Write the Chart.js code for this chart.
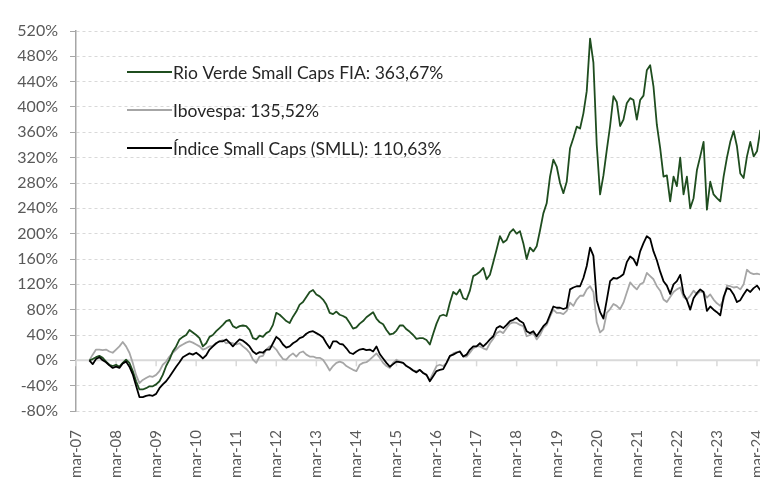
<!DOCTYPE html>
<html lang="pt-BR">
<head>
<meta charset="utf-8">
<title>Rio Verde Small Caps FIA x Ibovespa x SMLL</title>
<script src="https://cdn.jsdelivr.net/npm/chart.js@4.4.1/dist/chart.umd.min.js"></script>
<style>
  html, body { margin: 0; padding: 0; background: #fff; overflow: hidden; }
  #wrap { width: 767px; height: 480px; }
</style>
</head>
<body>
<div id="wrap"><canvas id="chart" width="767" height="480"></canvas></div>
<script>
// Cumulative return (%) at each month end, first point is jul-07
const firstMonth = 4; // months after mar-07

const tickLabels = [
  "mar-07", "mar-08", "mar-09", "mar-10", "mar-11", "mar-12",
  "mar-13", "mar-14", "mar-15", "mar-16", "mar-17", "mar-18",
  "mar-19", "mar-20", "mar-21", "mar-22", "mar-23", "mar-24",
];

const seriesNames = [
  "Rio Verde Small Caps FIA: 363,67%",
  "Ibovespa: 135,52%",
  "Índice Small Caps (SMLL): 110,63%",
];

const rioVerde = [
  0, 2, 5, 7, 4, -2, -7, -9, -7, -10,
  -4, 1, -4, -17, -33, -46, -46, -44, -41, -41,
  -38, -33, -23, -9, 1, 14, 22, 33, 37, 40,
  48, 44, 40, 35, 22, 27, 37, 40, 46, 51,
  56, 62, 64, 54, 51, 54, 55, 54, 48, 35,
  33, 39, 37, 43, 46, 56, 75, 72, 67, 62,
  59, 69, 77, 88, 92, 100, 108, 111, 104, 101,
  96, 88, 75, 73, 77, 72, 70, 67, 59, 50,
  52, 58, 62, 68, 72, 76, 66, 60, 57, 48,
  41, 42, 47, 55, 55, 49, 45, 40, 34, 35,
  35, 32, 25, 42, 58, 70, 72, 70, 91, 108,
  104, 112, 98, 96, 110, 133, 136, 140, 146, 128,
  135, 155, 175, 196, 186, 190, 202, 207, 200, 204,
  185, 160, 178, 172, 180, 205, 232, 248, 290, 317,
  306, 280, 264, 282, 335, 351, 369, 366, 390, 425,
  508, 470, 340, 262, 292, 332, 370, 417, 408, 370,
  380, 406, 414, 411, 380, 411, 418, 458, 466, 432,
  372, 335, 290, 292, 251, 290, 275, 320, 262, 290,
  240, 256, 300, 322, 345, 238, 282, 262, 256, 251,
  290, 320, 345, 362, 338, 295, 288, 322, 345, 322,
  330, 363.67,
];

const ibovespa = [
  0, 9, 17, 17, 16, 17, 14, 12, 17, 22,
  29, 22, 12, -4, -23, -36, -31, -28, -25, -26,
  -23, -17, -7, -2, 6, 12, 17, 22, 25, 28,
  30, 28, 25, 22, 17, 19, 22, 23, 27, 30,
  32, 27, 28, 27, 25, 27, 22, 18, 12, 1,
  -4, 6, 7, 17, 22, 22, 17, 9, 2, 1,
  7, 11, 6, 12, 14, 9, 6, 6, 4, 4,
  1, -7, -16, -9, -4, -2, -4, -9, -12, -15,
  -17, -7, -4, -3, 1, 6, 11, 4, -4, -9,
  -12, -4, 1, -2, -4, -9, -12, -16, -17, -15,
  -20, -23, -31, -20, -9, -7, -9, -4, 6, 11,
  13, 14, 6, 6, 12, 19, 22, 22, 19, 17,
  27, 34, 43, 46, 43, 51, 58, 60, 59, 56,
  54, 38, 40, 43, 33, 40, 51, 56, 69, 80,
  75, 75, 73, 78, 91, 86, 96, 102, 102, 112,
  117, 108, 60, 44, 49, 75, 81, 89, 86, 81,
  91, 107, 123, 117, 112, 120, 123, 138, 133, 128,
  117, 110, 96, 92, 100, 108, 112, 115, 100, 96,
  102, 110, 104, 109, 107, 99, 104, 96, 90, 86,
  96, 118, 117, 115, 116, 112, 120, 143, 138, 136,
  137, 135.52,
];

const smll = [
  0, -6, 2, 5, 0, -3, -8, -12, -10, -12,
  -5, -2, -10, -22, -40, -58, -58, -56, -55, -56,
  -53, -44, -38, -33, -26, -18, -10, -3, 5, 8,
  11, 9, 12, 8, 3, 8, 17, 22, 27, 30,
  30, 33, 28, 22, 28, 33, 31, 27, 22, 14,
  10, 13, 12, 17, 17, 27, 37, 33, 25, 20,
  22, 27, 30, 35, 37, 42, 45, 46, 43, 40,
  36, 27, 19, 30, 30, 26, 25, 19, 12, 10,
  14, 17, 18, 16, 17, 14, 22, 10, 3, -4,
  -10, -6, -2, -3, -4, -9, -12, -16, -19, -15,
  -20, -23, -33, -25, -17, -15, -14, -4, 7, 9,
  12, 14, 6, 9, 17, 22, 22, 27, 22, 27,
  33, 38, 51, 54, 51, 56, 62, 64, 67, 62,
  59, 46, 43, 46, 38, 46, 54, 59, 72, 85,
  83, 83, 81, 83, 112, 115, 117, 117, 130, 149,
  178, 165, 95, 76, 66, 95, 125, 130, 129, 132,
  136, 155, 164, 160, 150, 172, 185, 196, 192, 172,
  158, 140, 125, 118, 105, 120, 125, 135, 105, 95,
  80, 98, 106, 112, 108, 78, 85, 80, 76, 71,
  100, 114, 112, 104, 92, 95, 104, 112, 108, 114,
  118, 110.63,
];

const FONT = "Lato";

// turn a list of monthly values into {x, y} points
function toPoints(values) {
  return values.map((v, i) => ({ x: firstMonth + i, y: v }));
}

// Solid 0% line plus the date-axis tick marks that sit on it
const zeroLinePlugin = {
  id: "zeroLine",
  beforeDatasetsDraw(chart) {
    const { ctx, chartArea } = chart;
    const x = chart.scales.x;
    const y0 = chart.scales.y.getPixelForValue(0);
    ctx.save();
    ctx.strokeStyle = "#d9d9d9";
    ctx.lineWidth = 2;
    ctx.beginPath();
    ctx.moveTo(chartArea.left, y0);
    ctx.lineTo(chartArea.right, y0);
    ctx.stroke();
    ctx.lineWidth = 1.5;
    x.ticks.forEach((t) => {
      const px = x.getPixelForValue(t.value);
      ctx.beginPath();
      ctx.moveTo(px, y0);
      ctx.lineTo(px, y0 + 6);
      ctx.stroke();
    });
    ctx.restore();
  },
};

// Legend drawn inside the plot, upper left
const insideLegend = {
  id: "insideLegend",
  afterDatasetsDraw(chart) {
    const { ctx, chartArea } = chart;
    ctx.save();
    ctx.font = "17.5px " + FONT;
    ctx.textBaseline = "middle";
    ctx.fillStyle = "#262626";
    chart.data.datasets.forEach((ds, i) => {
      const rowY = chartArea.top + 41 + i * 38;
      ctx.strokeStyle = ds.borderColor;
      ctx.lineWidth = 2;
      ctx.beginPath();
      ctx.moveTo(chartArea.left + 51, rowY);
      ctx.lineTo(chartArea.left + 96, rowY);
      ctx.stroke();
      ctx.fillText(ds.label, chartArea.left + 97, rowY + 1);
    });
    ctx.restore();
  },
};

const ctx = document.getElementById("chart").getContext("2d");

const chart = new Chart(ctx, {
  type: "line",
  data: {
    datasets: [
      {
        label: seriesNames[0],
        data: toPoints(rioVerde),
        borderColor: "#1f4d1f",
        order: 1,
      },
      {
        label: seriesNames[1],
        data: toPoints(ibovespa),
        borderColor: "#a6a6a6",
        order: 2,
      },
      {
        label: seriesNames[2],
        data: toPoints(smll),
        borderColor: "#000000",
        order: 0,
      },
    ],
  },
  options: {
    responsive: false,
    animation: false,
    layout: { padding: { top: 31, right: 0, left: 0, bottom: 0 } },
    elements: {
      point: { radius: 0 },
      line: { borderWidth: 1.8, tension: 0, borderJoinStyle: "round" },
    },
    plugins: {
      legend: { display: false },
      tooltip: { enabled: false },
    },
    scales: {
      x: {
        type: "linear",
        min: 0,
        max: 207,
        afterBuildTicks: (axis) => {
          axis.ticks = tickLabels.map((_, i) => ({ value: i * 12 }));
        },
        afterFit: (axis) => {
          // fixed axis band; the plot runs past the window edge like the source
          axis.height = 69;
          axis.paddingLeft = 0;
          axis.paddingRight = 0;
        },
        ticks: {
          autoSkip: false,
          maxRotation: 90,
          minRotation: 90,
          padding: 11,
          color: "#595959",
          font: { family: FONT, size: 15 },
          callback: (v) => tickLabels[Math.round(v / 12)] || "",
        },
        grid: { display: false },
        border: { display: false },
      },
      y: {
        min: -80,
        max: 520,
        afterFit: (axis) => {
          axis.width = 76;
        },
        ticks: {
          stepSize: 40,
          padding: 12,
          color: "#595959",
          font: { family: FONT, size: 16 },
          callback: (v) => v + "%",
        },
        grid: {
          color: (c) => (c.tick && c.tick.value === 0 ? "rgba(0,0,0,0)" : "#d9d9d9"),
          tickColor: "#a6a6a6",
          tickLength: 6,
          lineWidth: 1,
        },
        border: { display: true, color: "#a6a6a6", width: 1.5, dash: [3, 3] },
      },
    },
  },
  plugins: [zeroLinePlugin, insideLegend],
});
</script>
</body>
</html>
